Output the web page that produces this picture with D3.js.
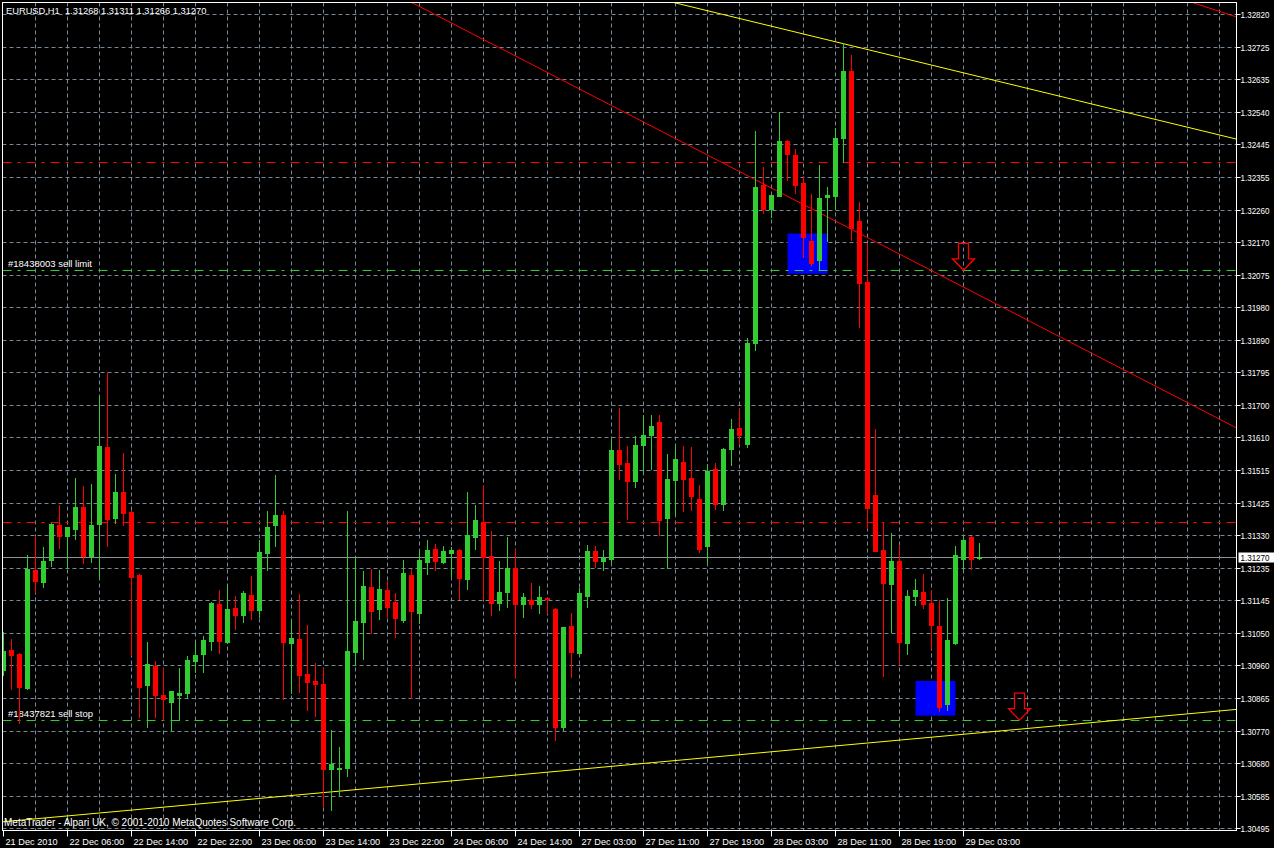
<!DOCTYPE html>
<html><head><meta charset="utf-8">
<script src="https://cdn.jsdelivr.net/npm/d3@7"></script>
<style>html,body{margin:0;padding:0;background:#000;overflow:hidden}
text{font-family:"Liberation Sans",Arial,sans-serif;font-size:10px;white-space:pre}</style>
</head><body><svg id="c" width="1274" height="848"></svg>
<script>
// ---------- data ----------
const chartTitle = "EURUSD,H1  1.31268 1.31311 1.31266 1.31270";
const footerText = "MetaTrader - Alpari UK, \u00a9 2001-2010 MetaQuotes Software Corp.";
const opens = [1.30948,1.31005,1.30994,1.30898,1.31234,1.31200,1.31262,1.31362,1.31332,1.31351,
1.31414,1.31275,1.31366,1.31585,1.31383,1.31457,1.31400,1.31220,1.30906,1.30960,
1.30877,1.30858,1.30877,1.30883,1.30974,1.30994,1.31031,1.31137,1.31029,1.31125,
1.31106,1.31163,1.31120,1.31283,1.31362,1.31391,1.31026,1.31037,1.30937,1.30917,
1.30908,1.30666,1.30666,1.30669,1.31000,1.31086,1.31186,1.31123,1.31177,1.31143,
1.31091,1.31220,1.31111,1.31257,1.31294,1.31257,1.31283,1.31291,1.31208,1.31328,
1.31371,1.31274,1.31140,1.31171,1.31240,1.31137,1.31148,1.31137,1.31154,1.31123,
1.30786,1.31074,1.30997,1.31160,1.31288,1.31260,1.31266,1.31577,1.31540,1.31489,
1.31592,1.31620,1.31657,1.31382,1.31491,1.31543,1.31497,1.31437,1.31303,1.31523,
1.31423,1.31580,1.31640,1.31594,1.31882,1.32333,1.32266,1.32303,1.32459,1.32419,
1.32339,1.32174,1.32118,1.32298,1.32303,1.32469,1.32659,1.32231,1.32057,1.31448,
1.31291,1.31195,1.31260,1.31026,1.31161,1.31171,1.31140,1.31074,1.30850,1.31026,
1.31264,1.31328,1.31268];
const highs = [1.31056,1.31037,1.30997,1.31277,1.31332,1.31300,1.31368,1.31420,1.31358,1.31498,
1.31473,1.31479,1.31732,1.31799,1.31509,1.31568,1.31405,1.31222,1.31029,1.30974,
1.30955,1.30888,1.30955,1.30988,1.31029,1.31046,1.31143,1.31177,1.31194,1.31160,
1.31174,1.31218,1.31320,1.31403,1.31505,1.31403,1.31091,1.31166,1.31077,1.30968,
1.30953,1.30777,1.30729,1.31403,1.31271,1.31231,1.31237,1.31234,1.31203,1.31169,
1.31262,1.31237,1.31291,1.31320,1.31308,1.31303,1.31300,1.31293,1.31457,1.31420,
1.31477,1.31345,1.31260,1.31328,1.31294,1.31169,1.31197,1.31188,1.31156,1.31126,
1.31071,1.31111,1.31183,1.31306,1.31303,1.31291,1.31605,1.31697,1.31588,1.31617,
1.31677,1.31677,1.31677,1.31565,1.31588,1.31588,1.31585,1.31477,1.31537,1.31540,
1.31582,1.31666,1.31694,1.31897,1.32489,1.32386,1.32306,1.32543,1.32461,1.32436,
1.32358,1.32308,1.32391,1.32329,1.32497,1.32738,1.32705,1.32285,1.32167,1.31637,
1.31370,1.31340,1.31303,1.31177,1.31208,1.31223,1.31177,1.31148,1.31154,1.31303,
1.31331,1.31331,1.31311];
const lows = [1.30934,1.30894,1.30796,1.30894,1.31172,1.31186,1.31246,1.31297,1.31239,1.31322,
1.31255,1.31257,1.31215,1.31303,1.31369,1.31362,1.30991,1.30815,1.30786,1.30815,
1.30805,1.30777,1.30805,1.30867,1.30943,1.30943,1.31005,1.30998,1.31026,1.31066,
1.31086,1.31094,1.31101,1.31234,1.31303,1.30865,1.30882,1.30885,1.30834,1.30817,
1.30558,1.30548,1.30591,1.30646,1.30963,1.30980,1.31054,1.31094,1.31100,1.31043,
1.31086,1.30868,1.31083,1.31223,1.31234,1.31254,1.31217,1.31151,1.31180,1.31294,
1.31151,1.31106,1.31120,1.31129,1.30928,1.31100,1.31126,1.31111,1.31111,1.30749,
1.30777,1.30928,1.30991,1.31129,1.31243,1.31234,1.31255,1.31495,1.31380,1.31472,
1.31514,1.31523,1.31334,1.31240,1.31394,1.31403,1.31405,1.31286,1.31254,1.31408,
1.31405,1.31534,1.31594,1.31584,1.31862,1.32255,1.32243,1.32303,1.32347,1.32312,
1.32129,1.32106,1.32094,1.32175,1.32266,1.32398,1.32177,1.31929,1.31355,1.31289,
1.30932,1.31058,1.30966,1.30995,1.31135,1.31126,1.31011,1.30830,1.30833,1.31023,
1.31237,1.31237,1.31266];
const closes = [1.31003,1.30991,1.30901,1.31237,1.31203,1.31260,1.31365,1.31332,1.31357,1.31414,
1.31275,1.31362,1.31588,1.31380,1.31457,1.31398,1.31215,1.30901,1.30966,1.30877,
1.30865,1.30888,1.30882,1.30977,1.30991,1.31034,1.31140,1.31031,1.31123,1.31106,
1.31168,1.31120,1.31286,1.31357,1.31391,1.31029,1.31040,1.30934,1.30914,1.30909,
1.30666,1.30680,1.30669,1.31003,1.31089,1.31189,1.31117,1.31180,1.31129,1.31097,
1.31225,1.31117,1.31262,1.31291,1.31260,1.31288,1.31291,1.31211,1.31334,1.31377,
1.31271,1.31140,1.31171,1.31240,1.31137,1.31157,1.31137,1.31157,1.31151,1.30786,
1.31071,1.31000,1.31168,1.31288,1.31260,1.31268,1.31577,1.31538,1.31487,1.31591,
1.31620,1.31645,1.31377,1.31494,1.31551,1.31494,1.31446,1.31294,1.31517,1.31423,
1.31580,1.31637,1.31620,1.31882,1.32329,1.32266,1.32306,1.32459,1.32422,1.32334,
1.32184,1.32112,1.32297,1.32306,1.32468,1.32659,1.32212,1.32054,1.31412,1.31289,
1.31198,1.31260,1.31029,1.31160,1.31177,1.31137,1.31077,1.30844,1.31034,1.31277,
1.31320,1.31266,1.31270];

const priceLabels = ["1.32820","1.32725","1.32635","1.32540","1.32445","1.32355","1.32260","1.32170",
"1.32075","1.31980","1.31890","1.31795","1.31700","1.31610","1.31515","1.31425","1.31330","1.31235",
"1.31145","1.31050","1.30960","1.30865","1.30770","1.30680","1.30585","1.30495"];
const timeLabels = ["21 Dec 2010","22 Dec 06:00","22 Dec 14:00","22 Dec 22:00","23 Dec 06:00","23 Dec 14:00",
"23 Dec 22:00","24 Dec 06:00","24 Dec 14:00","27 Dec 03:00","27 Dec 11:00","27 Dec 19:00","28 Dec 03:00",
"28 Dec 11:00","28 Dec 19:00","29 Dec 03:00"];
const timeLabelBars = [0,8,16,24,32,40,48,56,64,72,80,88,96,104,112,120];
const lastPrice = 1.31270;

// trend lines: [barIndex, price] pairs
const yellowUpper = [[83.56,1.32856],[154.06,1.32465]];
const yellowLower = [[24.56,1.30566],[147.06,1.30821]];
const redTrend = [[90.81,1.32386],[147.06,1.31723]];
const redTrendTop = [[148.73,1.32854],[154.06,1.32814]];
const redLevels = [1.32398, 1.31370];
const orderLevels = [1.32090, 1.30805];
const orderNames = ["#18438003 sell limit", "#18437821 sell stop"];
const rectBars = [[98,103],[114,119]];
const rectPrices = [[1.32195,1.32080],[1.30917,1.30818]];
const arrowBars = [120,127];
const arrowPrices = [1.32090,1.30805];

// ---------- drawing ----------
const svg = d3.select("#c");
const P = {l:2.5, t:2.5, r:1236.5, b:830.5};
const x = d3.scaleLinear().domain([0,154]).range([3.5, 3.5+8*154]);
const y = d3.scaleLinear().domain([1.30495,1.32820]).range([828.7,14.7]);
const GRID = "#778899", BULL = "#32CD32", BEAR = "#FF0000";

svg.append("rect").attr("width",1274).attr("height",848).attr("fill","#000");
svg.append("defs").append("clipPath").attr("id","clip").append("rect")
  .attr("x",P.l+0.5).attr("y",P.t+0.5).attr("width",P.r-P.l-1).attr("height",P.b-P.t-1);

// grid
const gridG = svg.append("g").attr("clip-path","url(#clip)");
const step = (1.32820-1.30495)/25;
priceLabels.forEach((lab,i)=>{
  const gy = Math.floor(y(1.32820 - i*step))+0.5;
  gridG.append("line").attr("x1",P.l).attr("x2",P.r).attr("y1",gy).attr("y2",gy)
    .attr("stroke",GRID).attr("stroke-dasharray","4,3");
});
d3.range(4,155,4).forEach(b=>{
  const gx = x(b);
  gridG.append("line").attr("x1",gx).attr("x2",gx).attr("y1",P.t).attr("y2",P.b)
    .attr("stroke",GRID).attr("stroke-dasharray","4,3");
});

const plotG = svg.append("g").attr("clip-path","url(#clip)");
// blue rectangles
rectBars.forEach((rb,i)=>{
  const y1 = y(rectPrices[i][0]), y2 = y(rectPrices[i][1]);
  plotG.append("rect").attr("x",x(rb[0])).attr("y",y1).attr("width",x(rb[1])-x(rb[0])).attr("height",y2-y1)
    .attr("fill","#0000FF");
});
// horizontal level lines
redLevels.forEach(p=>{
  const yy = Math.floor(y(p))+0.5;
  plotG.append("line").attr("x1",P.l).attr("x2",P.r).attr("y1",yy).attr("y2",yy)
    .attr("stroke","#FF0000").attr("stroke-dasharray","9,6,3,6");
});
orderLevels.forEach((p,i)=>{
  const yy = Math.floor(y(p))+0.5;
  plotG.append("line").attr("x1",P.l).attr("x2",P.r).attr("y1",yy).attr("y2",yy)
    .attr("stroke",BULL).attr("stroke-dasharray","9,6,3,6");
  plotG.append("text").attr("x",8).attr("y",yy-4).attr("fill","#fff").style("font-size","9.5px").text(orderNames[i]);
});
// current price line
const lpY = Math.floor(y(lastPrice))+0.5;
plotG.append("line").attr("x1",P.l).attr("x2",P.r).attr("y1",lpY).attr("y2",lpY).attr("stroke","#8f949a");

// trend lines (extended across the plot)
function extLine(pts, color){
  const [a,b] = pts;
  const slope = (b[1]-a[1])/(b[0]-a[0]);
  const b0 = -2, b1 = 156;
  plotG.append("line")
    .attr("x1",x(b0)).attr("y1",y(a[1]+slope*(b0-a[0])))
    .attr("x2",x(b1)).attr("y2",y(a[1]+slope*(b1-a[0])))
    .attr("stroke",color).attr("stroke-width",1);
}
extLine(redTrend,"#FF0000");
extLine(redTrendTop,"#FF0000");
extLine(yellowUpper,"#FFFF00");
extLine(yellowLower,"#FFFF00");

// candles
const candleG = plotG.append("g");
opens.forEach((o,i)=>{
  const c = closes[i], col = c>=o ? BULL : BEAR;
  const cx = x(i);
  candleG.append("line").attr("x1",cx).attr("x2",cx)
    .attr("y1",Math.round(y(highs[i]))).attr("y2",Math.round(y(lows[i]))+1).attr("stroke",col);
  const yt = Math.round(y(Math.max(o,c))), yb = Math.round(y(Math.min(o,c)));
  candleG.append("rect").attr("x",cx-2.5).attr("y",yt).attr("width",5).attr("height",Math.max(1,yb-yt+1))
    .attr("fill",col);
});

// arrows
arrowBars.forEach((b,i)=>{
  const tx = x(b), ty = y(arrowPrices[i]);
  const d = `M${tx-5},${ty-27}L${tx+5},${ty-27}L${tx+5},${ty-11.5}L${tx+11},${ty-11.5}L${tx},${ty}L${tx-11},${ty-11.5}L${tx-5},${ty-11.5}Z`;
  plotG.append("path").attr("d",d).attr("fill","none").attr("stroke","#FF0000").attr("stroke-width",1.3);
});

// border
svg.append("rect").attr("x",P.l).attr("y",P.t).attr("width",P.r-P.l).attr("height",P.b-P.t)
  .attr("fill","none").attr("stroke","#fff");

// price axis
priceLabels.forEach((lab,i)=>{
  const gy = Math.floor(y(1.32820 - i*step))+0.5;
  svg.append("line").attr("x1",P.r).attr("x2",P.r+4).attr("y1",gy).attr("y2",gy).attr("stroke","#fff");
  svg.append("text").attr("x",1240.5).attr("y",gy+3.5).attr("fill","#fff").style("font-size","9.3px")
    .attr("textLength",29).attr("lengthAdjust","spacingAndGlyphs").text(lab);
});
svg.append("rect").attr("x",1238.5).attr("y",lpY-5).attr("width",35.5).attr("height",10).attr("fill","#fff");
svg.append("text").attr("x",1240.5).attr("y",lpY+3.5).attr("fill","#000").style("font-size","9.3px")
  .attr("textLength",29).attr("lengthAdjust","spacingAndGlyphs").text(d3.format(".5f")(lastPrice));

// time axis
timeLabels.forEach((lab,i)=>{
  const tx = x(timeLabelBars[i]);
  svg.append("line").attr("x1",tx).attr("x2",tx).attr("y1",P.b).attr("y2",P.b+6).attr("stroke","#fff");
  svg.append("text").attr("x",tx+2).attr("y",845).attr("fill","#fff").style("font-size","9.2px").text(lab);
});

// header/footer
svg.append("text").attr("x",6).attr("y",14).attr("fill","#fff").style("font-size","9.3px").text(chartTitle);
svg.append("text").attr("x",4).attr("y",826).attr("fill","#fff").text(footerText);
</script></body></html>
